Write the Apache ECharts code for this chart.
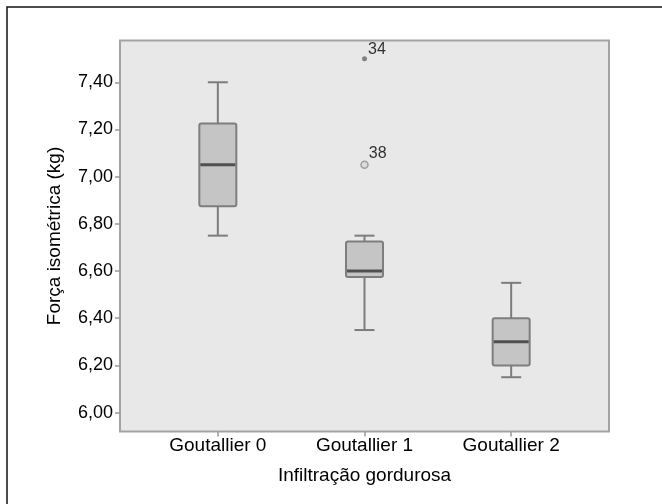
<!DOCTYPE html>
<html>
<head>
<meta charset="utf-8">
<script src="https://cdn.jsdelivr.net/npm/echarts@6/dist/echarts.min.js"></script>
<style>
html,body{margin:0;padding:0;background:#fff;}
#chart{width:662px;height:504px;}
</style>
</head>
<body>
<div id="chart"></div>
<script>
const categories = ['Goutallier 0', 'Goutallier 1', 'Goutallier 2'];
const whiskerLow = [6.75, 6.35, 6.15];
const q1 = [6.875, 6.575, 6.20];
const median = [7.05, 6.60, 6.30];
const q3 = [7.225, 6.725, 6.40];
const whiskerHigh = [7.40, 6.75, 6.55];
const outlierCategory = [1, 1];
const outlierValues = [7.50, 7.05];
const outlierLabels = ['34', '38'];
const outlierExtreme = [true, false];
const yTickValues = [6.0, 6.2, 6.4, 6.6, 6.8, 7.0, 7.2, 7.4];
const xAxisTitle = 'Infiltração gordurosa';
const yAxisTitle = 'Força isométrica (kg)';

const FONT = '"Liberation Sans", Arial, sans-serif';
const boxData = categories.map((c, i) => [i, whiskerLow[i], q1[i], median[i], q3[i], whiskerHigh[i]]);

const chart = echarts.init(document.getElementById('chart'), null, {renderer: 'canvas'});

function renderBox(params, api) {
  const x = api.value(0);
  const pLow = api.coord([x, api.value(1)]);
  const pQ1 = api.coord([x, api.value(2)]);
  const pMed = api.coord([x, api.value(3)]);
  const pQ3 = api.coord([x, api.value(4)]);
  const pHigh = api.coord([x, api.value(5)]);
  const cx = pMed[0];
  const bw = 37, cw = 20;
  const lineStyle = {stroke: '#7c7c7c', lineWidth: 2, fill: null};
  return {
    type: 'group',
    children: [
      {type: 'line', shape: {x1: cx, y1: pQ1[1], x2: cx, y2: pLow[1]}, style: lineStyle},
      {type: 'line', shape: {x1: cx - cw / 2, y1: pLow[1], x2: cx + cw / 2, y2: pLow[1]}, style: lineStyle},
      {type: 'line', shape: {x1: cx, y1: pQ3[1], x2: cx, y2: pHigh[1]}, style: lineStyle},
      {type: 'line', shape: {x1: cx - cw / 2, y1: pHigh[1], x2: cx + cw / 2, y2: pHigh[1]}, style: lineStyle},
      {type: 'rect', shape: {x: cx - bw / 2, y: pQ3[1], width: bw, height: pQ1[1] - pQ3[1], r: 2},
        style: {fill: '#c5c5c5', stroke: '#7e7e7e', lineWidth: 2}},
      {type: 'line', shape: {x1: cx - bw / 2 + 1, y1: pMed[1], x2: cx + bw / 2 - 1, y2: pMed[1]},
        style: {stroke: '#505050', lineWidth: 3}}
    ]
  };
}

const outlierData = outlierValues.map((v, i) => ({
  value: [outlierCategory[i], v],
  symbolSize: outlierExtreme[i] ? 5 : 7,
  itemStyle: outlierExtreme[i]
    ? {color: '#666666', borderColor: '#666666', borderWidth: 0}
    : {color: '#d8d8d8', borderColor: '#8c8c8c', borderWidth: 1.5},
  label: {
    show: true,
    formatter: outlierLabels[i],
    position: 'right',
    distance: 0,
    offset: outlierExtreme[i] ? [1, -9] : [0, -11]
  }
}));

chart.setOption({
  animation: false,
  backgroundColor: '#ffffff',
  graphic: [{
    type: 'rect',
    shape: {x: 7, y: 7, width: 720, height: 620},
    style: {fill: null, stroke: '#111111', lineWidth: 1.5},
    silent: true
  }],
  grid: {
    left: 120, right: 53, top: 40.5, bottom: 72.5,
    show: true,
    backgroundColor: '#e8e8e8',
    borderColor: '#a3a3a3',
    borderWidth: 2
  },
  xAxis: {
    type: 'value',
    min: -0.667,
    max: categories.length - 1 + 0.667,
    name: xAxisTitle,
    nameLocation: 'middle',
    nameGap: 35,
    nameTextStyle: {fontFamily: FONT, fontSize: 19, color: '#000'},
    axisLine: {show: false, onZero: false},
    splitLine: {show: false},
    axisTick: {show: true, customValues: categories.map((c, i) => i), length: 5, lineStyle: {color: '#999', width: 1.5}},
    axisLabel: {
      customValues: categories.map((c, i) => i),
      formatter: v => categories[Math.round(v)],
      fontFamily: FONT, fontSize: 19, color: '#000', margin: 5
    }
  },
  yAxis: {
    type: 'value',
    min: 5.92,
    max: 7.577,
    name: yAxisTitle,
    nameLocation: 'middle',
    nameGap: 56,
    nameTextStyle: {fontFamily: FONT, fontSize: 19, color: '#000'},
    axisLine: {show: false, onZero: false},
    splitLine: {show: false},
    axisTick: {show: true, customValues: yTickValues, length: 5, lineStyle: {color: '#999', width: 1.5}},
    axisLabel: {
      customValues: yTickValues,
      formatter: v => v.toFixed(2).replace('.', ','),
      fontFamily: FONT, fontSize: 18, color: '#000', margin: 7
    }
  },
  series: [
    {
      type: 'custom',
      renderItem: renderBox,
      data: boxData,
      encode: {x: 0, y: [1, 2, 3, 4, 5]},
      z: 2
    },
    {
      type: 'scatter',
      symbol: 'circle',
      data: outlierData,
      z: 3,
      label: {fontFamily: FONT, fontSize: 16, color: '#000'}
    }
  ]
});
</script>
</body>
</html>
